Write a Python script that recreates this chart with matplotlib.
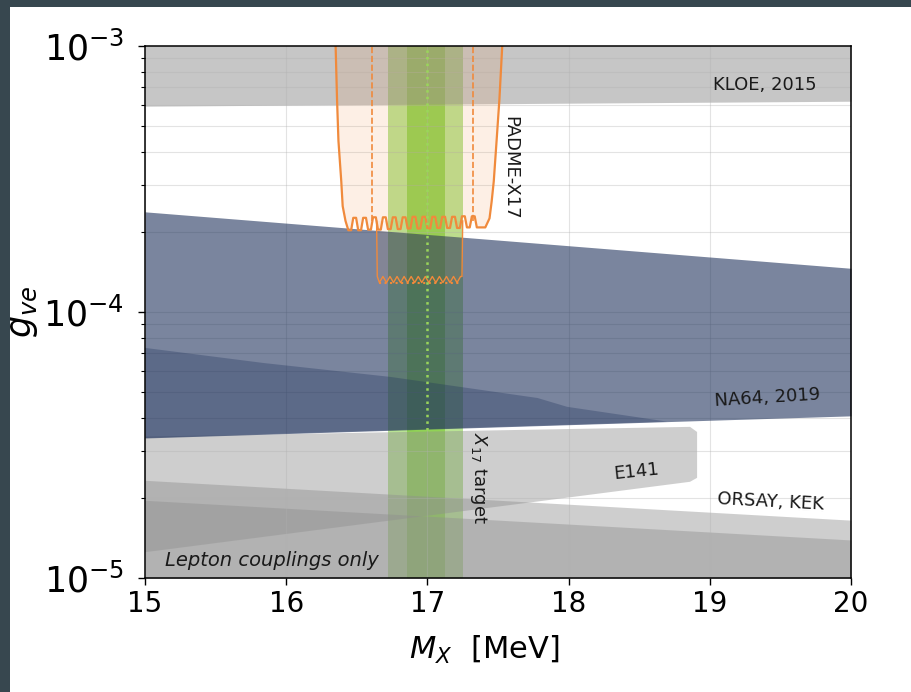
import matplotlib
matplotlib.use("Agg")
import matplotlib.pyplot as plt
from matplotlib.patches import Rectangle
from matplotlib.ticker import NullFormatter, LogLocator

# --- exclusion bands (mass in MeV, coupling g_ve) ---
mx_edges = [15.0, 20.0]
kloe_low = [5.94e-4, 6.2e-4]
na64_up = [2.38e-4, 1.46e-4]
na64_low = [3.36e-5, 4.07e-5]
orsay_a_top = [2.33e-5, 1.65e-5]
orsay_b_top = [1.96e-5, 1.39e-5]

na64_old_x = [15.0, 15.84, 16.74, 17.78, 17.99, 18.70, 15.0]
na64_old_y = [7.33e-5, 6.43e-5, 5.70e-5, 4.75e-5, 4.40e-5, 3.87e-5, 3.36e-5]

e141_x = [15.0, 18.86, 18.91, 18.91, 18.86, 15.0]
e141_y = [3.40e-5, 3.70e-5, 3.54e-5, 2.38e-5, 2.30e-5, 1.25e-5]

# --- X17 target window ---
x17_outer = (16.72, 17.25)
x17_inner = (16.855, 17.125)
x17_mass = 17.0
x17_line_g = (3.6e-5, 1e-3)

# --- PADME-X17 reach, outer contour ---
padme_x = [16.35, 16.36, 16.37, 16.39, 16.40, 16.42,
           16.44, 16.46, 16.475, 16.495,
           16.51, 16.53, 16.545, 16.565,
           16.58, 16.60, 16.615, 16.635,
           16.65, 16.67, 16.685, 16.705,
           16.72, 16.74, 16.755, 16.775,
           16.79, 16.81, 16.825, 16.845,
           16.86, 16.88, 16.895, 16.915,
           16.93, 16.95, 16.965, 16.985,
           17.00, 17.02, 17.035, 17.055,
           17.07, 17.09, 17.105, 17.125,
           17.14, 17.16, 17.175, 17.195,
           17.21, 17.23, 17.245, 17.265,
           17.28, 17.30, 17.315, 17.335,
           17.35, 17.41, 17.44,
           17.455, 17.47, 17.49, 17.51, 17.53]
padme_g = [1e-3, 6.3e-4, 4.4e-4, 3.1e-4, 2.5e-4, 2.2e-4,
           2.03e-4, 2.03e-4, 2.26e-4, 2.26e-4,
           2.03e-4, 2.03e-4, 2.26e-4, 2.26e-4,
           2.04e-4, 2.04e-4, 2.27e-4, 2.27e-4,
           2.04e-4, 2.04e-4, 2.27e-4, 2.27e-4,
           2.05e-4, 2.05e-4, 2.27e-4, 2.27e-4,
           2.05e-4, 2.05e-4, 2.27e-4, 2.27e-4,
           2.06e-4, 2.06e-4, 2.28e-4, 2.28e-4,
           2.06e-4, 2.06e-4, 2.28e-4, 2.28e-4,
           2.06e-4, 2.06e-4, 2.28e-4, 2.28e-4,
           2.07e-4, 2.07e-4, 2.28e-4, 2.28e-4,
           2.07e-4, 2.07e-4, 2.28e-4, 2.28e-4,
           2.07e-4, 2.07e-4, 2.29e-4, 2.29e-4,
           2.08e-4, 2.08e-4, 2.29e-4, 2.29e-4,
           2.08e-4, 2.08e-4, 2.25e-4,
           2.6e-4, 3.1e-4, 4.4e-4, 6.3e-4, 1e-3]

padme_dash_x = [16.61, 17.32]
padme_dash_g = (2.2e-4, 1e-3)

# --- PADME-X17 reach, inner contour ---
padme_in_x = [16.64, 16.645, 16.66, 16.685, 16.71, 16.735, 16.76, 16.785, 16.81,
              16.835, 16.86, 16.885, 16.91, 16.935, 16.96, 16.985, 17.01, 17.035,
              17.06, 17.085, 17.11, 17.135, 17.16, 17.185, 17.21, 17.235, 17.245, 17.25]
padme_in_g = [2.2e-4, 1.36e-4, 1.29e-4, 1.36e-4, 1.29e-4, 1.36e-4, 1.29e-4, 1.36e-4, 1.29e-4,
              1.36e-4, 1.29e-4, 1.36e-4, 1.29e-4, 1.36e-4, 1.29e-4, 1.36e-4, 1.29e-4, 1.36e-4,
              1.29e-4, 1.36e-4, 1.29e-4, 1.36e-4, 1.29e-4, 1.36e-4, 1.29e-4, 1.36e-4, 1.36e-4, 2.2e-4]
padme_in_dot_x = [16.66, 17.24]
padme_in_dot_g = 1.28e-4

gray = '#8f8f8f'
na64_col = '#21345d'
green = '#5abe00'
orange = '#f08a3c'

fig = plt.figure(figsize=(9.12, 6.92), dpi=100, facecolor='#37474f')
fig.add_artist(Rectangle((10 / 912, 0), 1, 1 - 7 / 692, transform=fig.transFigure,
                         facecolor='white', edgecolor='none', zorder=-10))

ax = fig.add_axes([145 / 912, 1 - 578 / 692, (851 - 145) / 912, (578 - 46) / 692])
ax.set_yscale('log')
ax.set_xlim(15, 20)
ax.set_ylim(1e-5, 1e-3)

# X17 window (underneath the exclusions)
ax.axvspan(*x17_outer, color=green, alpha=0.42, lw=0, zorder=1)
ax.axvspan(*x17_inner, color=green, alpha=0.42, lw=0, zorder=1)

# gray constraints
ax.fill_between(mx_edges, kloe_low, [1e-3, 1e-3], color=gray, alpha=0.5, lw=0, zorder=2)
ax.fill_between(mx_edges, [1e-5, 1e-5], orsay_a_top, color=gray, alpha=0.43, lw=0, zorder=2)
ax.fill_between(mx_edges, [1e-5, 1e-5], orsay_b_top, color=gray, alpha=0.43, lw=0, zorder=2)
ax.fill(e141_x, e141_y, color=gray, alpha=0.43, lw=0, zorder=2)

# NA64
ax.fill_between(mx_edges, na64_low, na64_up, color=na64_col, alpha=0.6, lw=0, zorder=3)
ax.fill(na64_old_x, na64_old_y, color=na64_col, alpha=0.33, lw=0, zorder=3)

ax.plot([x17_mass, x17_mass], x17_line_g, ls=':', color='#9ad65a', lw=1.8, zorder=6)

# PADME
ax.fill(padme_x, padme_g, color=orange, alpha=0.13, lw=0, zorder=4)
ax.plot(padme_x, padme_g, color=orange, lw=1.6, zorder=5)
for xd in padme_dash_x:
    ax.plot([xd, xd], padme_dash_g, color=orange, lw=1.2, ls='--', zorder=5)
ax.fill(padme_in_x, padme_in_g, color=orange, alpha=0.08, lw=0, zorder=4)
ax.plot(padme_in_x, padme_in_g, color=orange, lw=1.0, zorder=5)
ax.plot(padme_in_dot_x, [padme_in_dot_g, padme_in_dot_g], color=orange, lw=1.5, ls=':', zorder=5)

# labels inside the plot
tc = '#1a1a1a'
ax.text(19.76, 7.13e-4, 'KLOE, 2015', fontsize=13, color=tc, ha='right', va='center', zorder=7)
ax.text(19.41, 4.75e-5, 'NA64, 2019', fontsize=13, color=tc, ha='center', va='center',
        rotation=3.5, zorder=7)
ax.text(18.48, 2.50e-5, 'E141', fontsize=13, color=tc, ha='center', va='center',
        rotation=6, zorder=7)
ax.text(19.43, 1.93e-5, 'ORSAY, KEK', fontsize=13, color=tc, ha='center', va='center',
        rotation=-3, zorder=7)
ax.text(17.585, 3.47e-4, 'PADME-X17', fontsize=13, color=tc, ha='center', va='center',
        rotation=270, zorder=7)
ax.text(17.36, 2.38e-5, '$X_{17}$ target', fontsize=13, color=tc, ha='center', va='center',
        rotation=270, zorder=7)
ax.text(15.14, 1.16e-5, 'Lepton couplings only', fontsize=14, color=tc, style='italic',
        ha='left', va='center', zorder=7)

# axes cosmetics
ax.yaxis.set_major_locator(LogLocator(base=10, numticks=5))
ax.yaxis.set_minor_locator(LogLocator(base=10, subs=range(2, 10), numticks=20))
ax.yaxis.set_minor_formatter(NullFormatter())
ax.grid(True, which='both', axis='y', color='#b0b0b0', alpha=0.35, lw=0.8, zorder=8)
ax.grid(True, which='major', axis='x', color='#b0b0b0', alpha=0.35, lw=0.8, zorder=8)
ax.set_axisbelow(False)
ax.tick_params(axis='x', which='major', labelsize=20, length=5, width=1, direction='out')
ax.tick_params(axis='y', which='major', labelsize=25, length=5, width=1, direction='out', pad=10)
ax.tick_params(axis='y', which='minor', length=3, width=0.8, direction='out')
for s in ax.spines.values():
    s.set_linewidth(1.1)
    s.set_zorder(9)

ax.set_xlabel(r'$M_X$  [MeV]', fontsize=22)
ax.xaxis.set_label_coords(0.48, -0.105)
ax.set_ylabel(r'$g_{ve}$', fontsize=25, labelpad=2)

fig.savefig('out.png', dpi=100, facecolor=fig.get_facecolor())
